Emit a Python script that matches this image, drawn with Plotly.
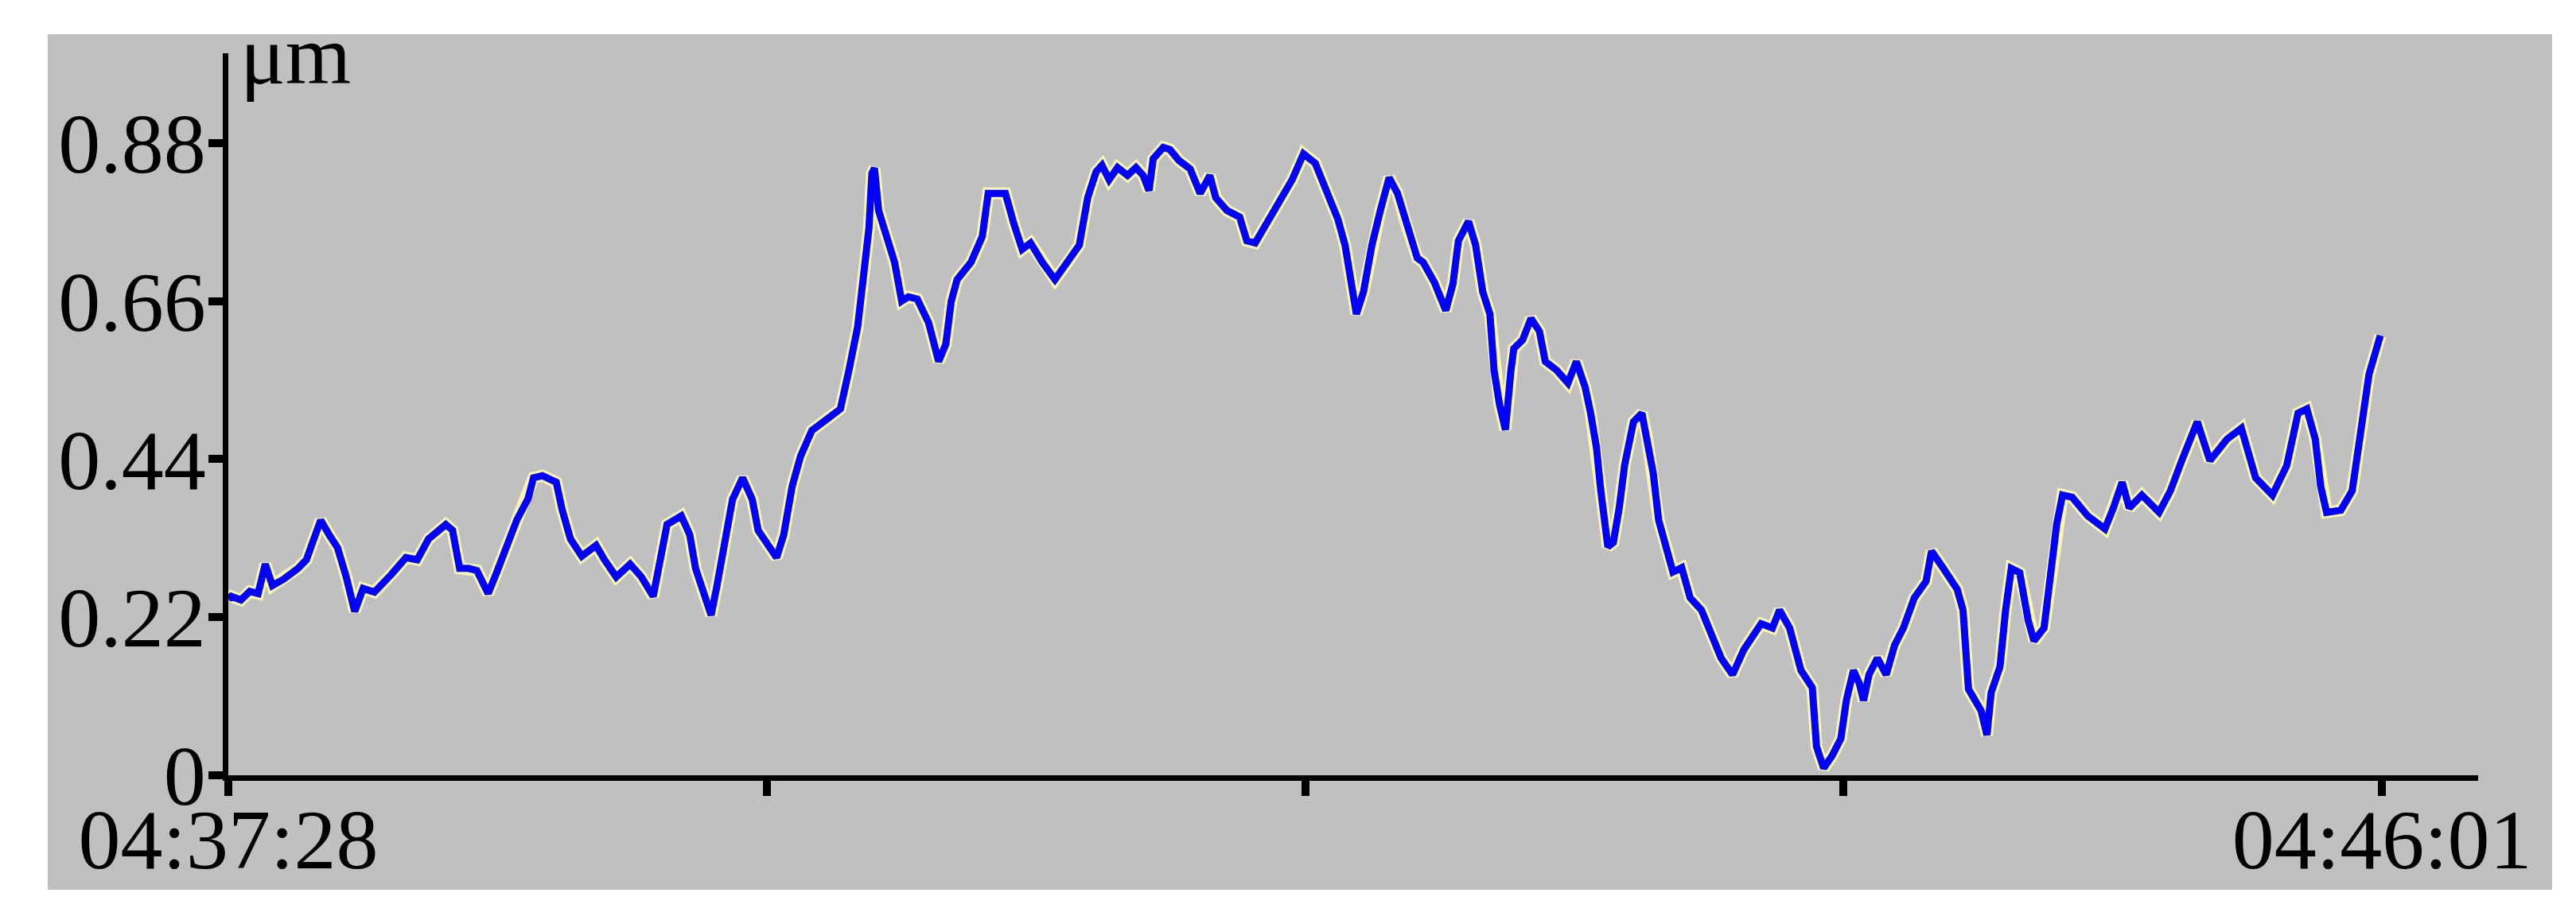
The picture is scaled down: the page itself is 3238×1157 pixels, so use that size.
import plotly.graph_objects as go

# ---------------- data ----------------
# elapsed seconds since 04:37:28
t_sec = [
    0.0, 0.7, 3.0, 5.1, 7.1, 8.8, 10.5, 13.2, 16.6, 18.6, 20.0, 22.0, 24.0, 26.0, 28.1, 30.1,
    32.1, 34.8, 38.9, 42.3, 45.0, 47.7, 51.8, 53.4, 55.1, 57.2, 59.2, 61.9, 63.9, 66.0, 68.7,
    71.4, 72.7, 74.8, 78.1, 79.5, 81.5, 84.2, 87.6, 89.6, 92.4, 95.7, 98.4, 101.2,
    103.2, 104.5, 107.9, 109.9, 111.3, 113.3, 115.0, 116.4, 118.1, 120.1, 122.5, 124.8, 126.2,
    128.2, 130.6, 132.3, 134.3, 136.3, 139.0, 143.1, 145.8, 147.8, 149.9, 151.2, 152.6, 153.3,
    153.9, 154.9, 156.6, 158.7, 160.4, 162.0, 164.1, 166.8, 169.2, 170.9, 172.2, 173.6, 176.9,
    179.6, 181.0, 183.0, 185.1, 187.1, 189.1, 191.1, 193.9, 196.9, 199.9, 202.7, 204.7, 206.7,
    208.1, 209.8, 211.8, 214.2, 216.2, 217.9, 219.3, 220.3, 222.7, 224.3, 226.4, 229.1, 231.5,
    233.8, 235.2, 237.9, 240.9, 242.6, 244.6, 247.4, 250.1, 253.4, 256.1, 258.9, 260.9, 264.3,
    266.0, 267.3, 268.7, 270.4, 272.4, 274.4, 276.5, 278.5, 280.5, 283.2, 284.6, 287.3, 290.0,
    291.7, 293.0, 295.4, 297.1, 298.8, 300.5, 301.5, 302.8, 304.2, 305.5, 306.2, 308.3, 310.3,
    312.3, 313.7, 316.4, 319.1, 321.1, 323.2, 324.5, 325.9, 326.9, 328.6, 329.9, 331.3, 332.6,
    334.7, 336.7, 338.0, 339.4, 340.7, 342.8, 344.1, 346.2, 348.2, 350.9, 353.0, 355.6, 358.3,
    361.0, 365.1, 367.8, 369.5, 371.9, 374.6, 377.3, 378.3, 380.0, 382.0, 384.1, 385.4, 387.1,
    388.5, 389.5, 390.8, 392.8, 394.9, 396.9, 399.0, 401.6, 404.4, 405.7, 408.4, 411.8, 413.2,
    414.5, 417.5, 418.9, 419.9, 422.0, 423.3, 424.7, 426.7, 428.7, 430.1, 432.5, 433.5, 435.5,
    436.9, 439.2, 442.9, 447.0, 449.0, 451.1, 452.8, 455.8, 459.9, 462.6, 465.3, 469.0, 472.0,
    476.1, 479.5, 482.9, 486.9, 490.3, 493.0, 495.1, 497.1, 498.4, 499.8, 503.2, 505.9, 507.9,
    509.9, 512.6,
]
disp_um = [
    0.245, 0.249, 0.244, 0.256, 0.253, 0.294, 0.264, 0.273, 0.288, 0.300, 0.323, 0.355, 0.335, 0.317, 0.276, 0.228,
    0.260, 0.255, 0.280, 0.303, 0.300, 0.329, 0.349, 0.341, 0.288, 0.288, 0.285, 0.253, 0.282, 0.317, 0.355,
    0.385, 0.414, 0.417, 0.408, 0.370, 0.329, 0.305, 0.320, 0.300, 0.276, 0.294, 0.276, 0.249,
    0.311, 0.349, 0.361, 0.335, 0.288, 0.253, 0.223, 0.264, 0.317, 0.384, 0.414, 0.384, 0.341,
    0.323, 0.303, 0.335, 0.402, 0.444, 0.480, 0.498, 0.510, 0.563, 0.624, 0.690, 0.762, 0.838,
    0.845, 0.786, 0.755, 0.714, 0.660, 0.666, 0.663, 0.630, 0.576, 0.600, 0.660, 0.690, 0.714,
    0.750, 0.810, 0.810, 0.810, 0.768, 0.732, 0.741, 0.714, 0.690, 0.714, 0.738, 0.804, 0.840,
    0.849, 0.829, 0.846, 0.835, 0.846, 0.835, 0.814, 0.858, 0.874, 0.871, 0.856, 0.844, 0.810,
    0.835, 0.804, 0.786, 0.777, 0.744, 0.741, 0.768, 0.795, 0.829, 0.865, 0.852, 0.823, 0.774,
    0.738, 0.684, 0.642, 0.673, 0.738, 0.786, 0.832, 0.810, 0.768, 0.720, 0.714, 0.686, 0.647,
    0.684, 0.744, 0.771, 0.738, 0.673, 0.642, 0.563, 0.516, 0.481, 0.563, 0.594, 0.606, 0.636,
    0.618, 0.576, 0.564, 0.546, 0.576, 0.540, 0.504, 0.456, 0.397, 0.318, 0.324, 0.372, 0.432,
    0.492, 0.504, 0.468, 0.421, 0.355, 0.312, 0.283, 0.289, 0.247, 0.230, 0.200, 0.163, 0.140,
    0.175, 0.211, 0.205, 0.230, 0.205, 0.146, 0.122, 0.040, 0.010, 0.027, 0.051, 0.104, 0.146,
    0.128, 0.104, 0.140, 0.163, 0.140, 0.181, 0.205, 0.247, 0.270, 0.312, 0.289, 0.259, 0.230,
    0.120, 0.090, 0.056, 0.115, 0.151, 0.228, 0.288, 0.282, 0.216, 0.187, 0.205, 0.253, 0.349,
    0.390, 0.387, 0.361, 0.343, 0.372, 0.408, 0.372, 0.390, 0.366, 0.396, 0.438, 0.492, 0.438,
    0.468, 0.483, 0.414, 0.390, 0.431, 0.504, 0.510, 0.468, 0.402, 0.366, 0.369, 0.396, 0.474,
    0.558, 0.612,
]

x_tick_secs = [0, 128.25, 256.5, 384.75, 513]
x_tick_labels = ["04:37:28", "", "", "", "04:46:01"]
y_tick_vals = [0, 0.22, 0.44, 0.66, 0.88]
y_tick_labels = ["0", "0.22", "0.44", "0.66", "0.88"]
unit_label = "μm"

# ---------------- layout geometry (pixels) ----------------
W, H = 3238, 1157
L, R, T, B = 279, 3107, 59, 967
PW, PH = R - L, B - T
BG = (52, 35, 3200, 1111)  # gray panel: left, top, right, bottom

def px_x(px):
    return (px - L) / PW

def px_y(py):
    return (B - py) / PH

FONT = "Liberation Serif"

fig = go.Figure()
fig.add_trace(go.Scatter(x=t_sec, y=disp_um, mode="lines",
                         line=dict(color="rgb(250,247,175)", width=15),
                         hoverinfo="skip", showlegend=False))
fig.add_trace(go.Scatter(x=t_sec, y=disp_um, mode="lines",
                         line=dict(color="#0000FF", width=9),
                         showlegend=False))

fig.add_shape(type="rect", xref="paper", yref="paper",
              x0=px_x(BG[0]), x1=px_x(BG[2]), y0=px_y(BG[3]), y1=px_y(BG[1]),
              fillcolor="#C0C0C0", line=dict(width=0), layer="below")

fig.add_annotation(text=unit_label, xref="paper", yref="paper",
                   x=px_x(292), y=px_y(62), xanchor="left", yanchor="middle",
                   showarrow=False, font=dict(family=FONT, size=106, color="black"))

axis_common = dict(showgrid=False, zeroline=False, showline=True, linecolor="black",
                   linewidth=7, ticks="outside", tickcolor="black", tickwidth=10,
                   tickfont=dict(family=FONT, size=106, color="black"))

fig.update_layout(
    width=W, height=H,
    margin=dict(l=L, r=W - R, t=T, b=H - B, pad=0),
    paper_bgcolor="white", plot_bgcolor="#C0C0C0",
    showlegend=False,
    xaxis=dict(range=[0, 535.9], tickmode="array", tickvals=x_tick_secs,
               ticktext=x_tick_labels, ticklen=19, ticklabelstandoff=-36,
               **axis_common),
    yaxis=dict(range=[0, 1.005], tickmode="array", tickvals=y_tick_vals,
               ticktext=y_tick_labels, ticklen=18, ticklabelstandoff=-18,
               **axis_common),
)

fig.write_html("out.html")
